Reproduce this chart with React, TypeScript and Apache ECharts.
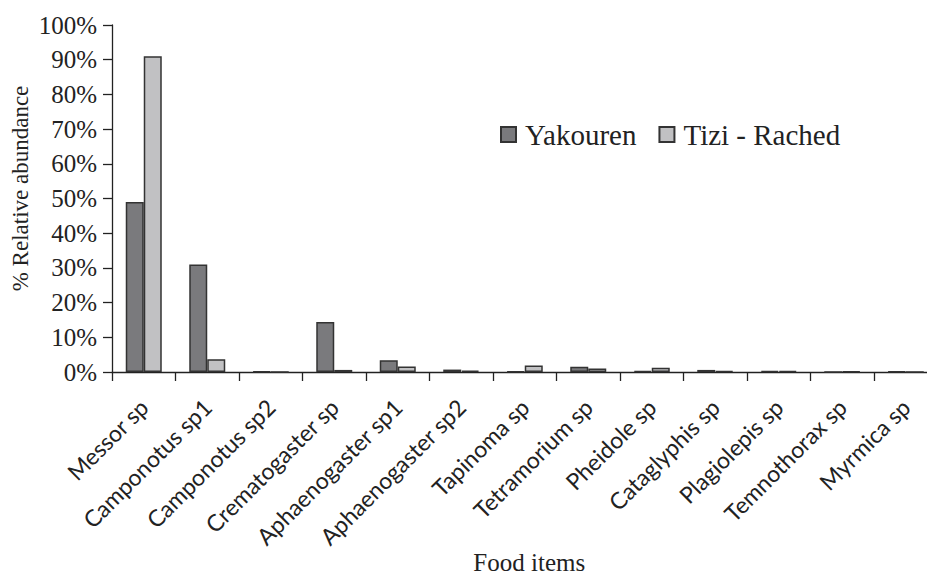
import React, { useEffect, useRef } from "react";
import * as echarts from "echarts";

const categories = [
  "Messor sp", "Camponotus sp1", "Camponotus sp2", "Crematogaster sp",
  "Aphaenogaster sp1", "Aphaenogaster sp2", "Tapinoma sp", "Tetramorium sp",
  "Pheidole sp", "Cataglyphis sp", "Plagiolepis sp", "Temnothorax sp", "Myrmica sp",
];
const yakouren = [49, 31, 0.2, 14.4, 3.4, 0.7, 0.2, 1.5, 0.3, 0.6, 0.3, 0, 0.2];
const tiziRached = [91, 3.7, 0, 0.6, 1.6, 0.4, 1.9, 1.0, 1.2, 0.3, 0.3, 0.2, 0];
const seriesNames = ["Yakouren", "Tizi - Rached"];

const serif = "'Liberation Serif', 'DejaVu Serif', serif";
const sans = "Lato, 'Open Sans', sans-serif";

export default function App() {
  const ref = useRef<HTMLDivElement>(null);
  useEffect(() => {
    if (!ref.current) return;
    const chart = echarts.init(ref.current, null, { renderer: "svg" });
    chart.setOption({
      animation: false,
      backgroundColor: "#ffffff",
      legend: {
        left: 500,
        top: 120,
        padding: 0,
        itemWidth: 15,
        itemHeight: 15,
        itemGap: 22,
        icon: "rect",
        textStyle: { fontFamily: serif, fontSize: 29, color: "#222", padding: [0, 0, 0, 4] },
        data: seriesNames,
      },
      grid: {
        left: 112,
        right: -10.5,
        top: 25,
        bottom: 205,
        containLabel: false,
        outerBoundsMode: "none",
      },
      xAxis: {
        type: "category",
        data: categories,
        name: "Food items",
        nameLocation: "middle",
        nameGap: 178,
        nameMoveOverlap: false,
        nameTextStyle: { fontFamily: serif, fontSize: 25, color: "#222", padding: [0, 0, 0, 9] },
        axisLine: { lineStyle: { color: "#222", width: 1.3 } },
        axisTick: { show: true, length: 9, lineStyle: { color: "#222", width: 1.3 } },
        axisLabel: {
          rotate: 45,
          interval: 0,
          margin: 31,
          fontFamily: sans,
          fontSize: 23,
          color: "#222",
        },
      },
      yAxis: {
        type: "value",
        min: 0,
        max: 100,
        interval: 10,
        name: "% Relative abundance",
        nameLocation: "middle",
        nameGap: 80,
        nameMoveOverlap: false,
        nameTextStyle: { fontFamily: serif, fontSize: 23, color: "#222", padding: [0, 0, 0, 20] },
        splitLine: { show: false },
        axisLine: { show: true, lineStyle: { color: "#222", width: 1.3 } },
        axisTick: { show: true, length: 9, lineStyle: { color: "#222", width: 1.3 } },
        axisLabel: {
          formatter: "{value}%",
          fontFamily: serif,
          fontSize: 25,
          color: "#222",
          margin: 15,
        },
      },
      series: [
        {
          name: seriesNames[0],
          type: "bar",
          data: yakouren,
          barWidth: 18,
          barGap: "0%",
          itemStyle: { color: "#7a7a7d", borderColor: "#333", borderWidth: 1.5 },
        },
        {
          name: seriesNames[1],
          type: "bar",
          data: tiziRached,
          barWidth: 18,
          barGap: "0%",
          itemStyle: { color: "#c1c1c3", borderColor: "#333", borderWidth: 1.5 },
        },
      ],
    });
    return () => chart.dispose();
  }, []);
  return <div ref={ref} style={{ width: 927, height: 577, position: "absolute", left: 0, top: 0 }} />;
}
